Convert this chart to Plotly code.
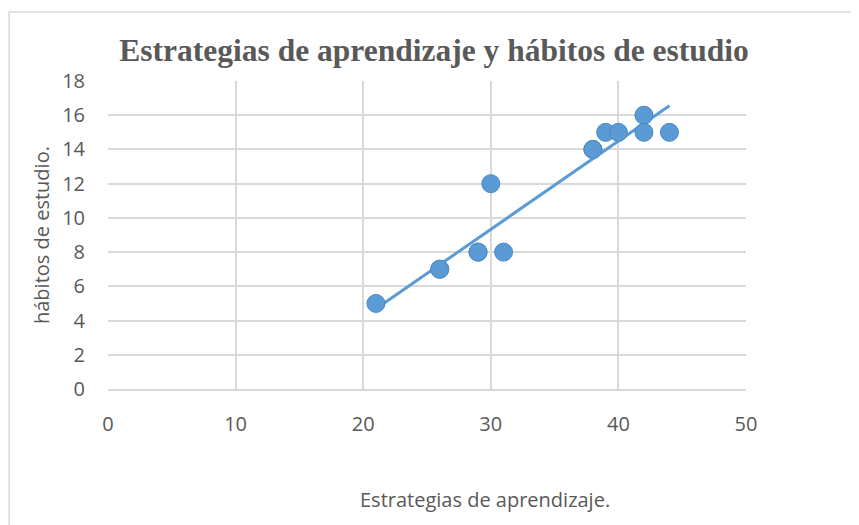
import numpy as np
import plotly.graph_objects as go

# datos
estrategias = [21, 26, 26, 29, 29, 30, 31, 38, 38, 39, 40, 42, 42, 44]
habitos = [5, 7, 7, 8, 8, 12, 8, 14, 14, 15, 15, 16, 15, 15]

x_ticks = [0, 10, 20, 30, 40, 50]
y_ticks = [0, 2, 4, 6, 8, 10, 12, 14, 16, 18]

# línea de tendencia lineal
m, b = np.polyfit(estrategias, habitos, 1)
x_line = [min(estrategias), max(estrategias)]
y_line = [m * v + b for v in x_line]

azul = '#5B9BD5'
gris = '#595959'
rejilla = '#D9D9D9'

fig = go.Figure()
fig.add_trace(go.Scatter(
    x=x_line, y=y_line, mode='lines',
    line=dict(color=azul, width=3), hoverinfo='skip', showlegend=False
))
fig.add_trace(go.Scatter(
    x=estrategias, y=habitos, mode='markers',
    marker=dict(size=18, color=azul, line=dict(color='#4A88C2', width=1)),
    showlegend=False
))

fig.update_layout(
    width=859, height=525,
    margin=dict(l=100, r=121, t=73, b=144),
    paper_bgcolor='white', plot_bgcolor='white',
    font=dict(family='Open Sans', color=gris, size=20),
    title=dict(
        text='<b>Estrategias de aprendizaje y hábitos de estudio</b>',
        x=0.496, xanchor='center', y=0.92, yanchor='middle',
        font=dict(family='Liberation Serif', size=31.5, color=gris)
    ),
    # marco del gráfico (solo visible arriba y a la izquierda)
    shapes=[dict(
        type='rect', xref='paper', yref='paper',
        x0=-0.155, x1=1.4, y0=-0.7, y1=1.224,
        line=dict(color=rejilla, width=1.5), layer='below'
    )],
    annotations=[
        dict(text='Estrategias de aprendizaje.', xref='paper', yref='paper',
             x=0.591, y=-0.360, xanchor='center', yanchor='middle',
             showarrow=False, font=dict(size=20, color=gris)),
        dict(text='hábitos de estudio.', xref='paper', yref='paper',
             x=-0.105, y=0.5, xanchor='center', yanchor='middle',
             textangle=-90, showarrow=False,
             font=dict(size=20, color=gris)),
    ]
)

fig.update_xaxes(
    range=[0, 50], tickvals=x_ticks, showgrid=True, gridcolor=rejilla,
    gridwidth=1.5, zeroline=False, showline=True, linecolor=rejilla,
    linewidth=1.5, ticks='', ticklabelstandoff=16
)
fig.update_yaxes(
    range=[0, 18], tickvals=y_ticks, showgrid=True, gridcolor=rejilla,
    gridwidth=1.5, zeroline=False, showline=False,
    ticks='', ticklabelstandoff=22
)

fig.write_html("out.html")
